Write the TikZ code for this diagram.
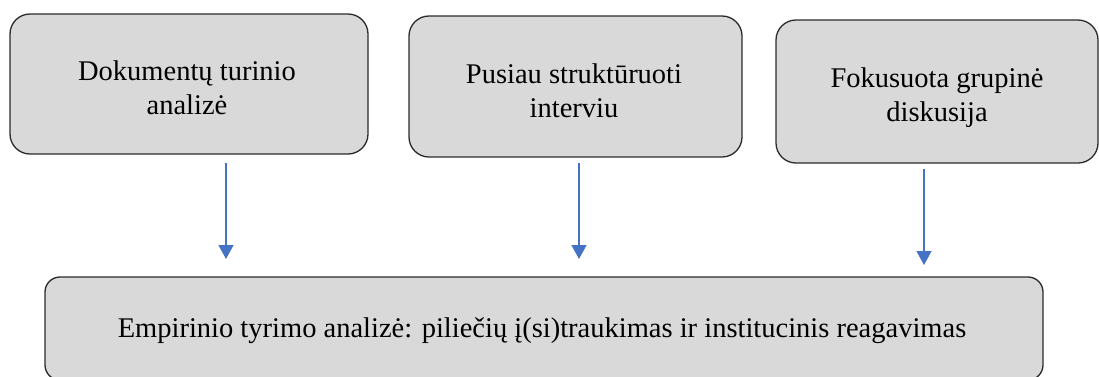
\documentclass[tikz,border=0pt]{standalone}
\usepackage{fontspec}
\setmainfont{Liberation Serif}
\usetikzlibrary{arrows.meta}
\definecolor{boxfill}{HTML}{D9D9D9}
\definecolor{boxline}{HTML}{2B2B2B}
\definecolor{arrblue}{HTML}{4472C4}
\begin{document}
\begin{tikzpicture}[x=1pt,y=-1pt,
  stagebox/.style={draw=boxline,line width=1.3pt,fill=boxfill,rounded corners=20pt},
  flowarrow/.style={draw=arrblue,line width=1.3pt,-{Triangle[length=14pt,width=15pt]}},
  lbl/.style={align=center,font=\fontsize{28.5}{34}\selectfont,inner sep=0pt}]
\useasboundingbox (0,0) rectangle (1099,376);
\draw[stagebox] (10,14) rectangle (368,154);
\draw[stagebox] (409,16) rectangle (742,157);
\draw[stagebox] (776,20) rectangle (1098,163);
\draw[stagebox,rounded corners=15pt] (45,277) rectangle (1043,380);
\node[lbl] (a) at (187,88) {Dokumentų turinio\\analizė};
\node[lbl] (b) at (574,91) {Pusiau struktūruoti\\interviu};
\node[lbl] (c) at (937,98) {Fokusuota grupinė\\diskusija};
\node[lbl] (d) at (542,331) {Empirinio tyrimo analizė: piliečių į(si)traukimas ir institucinis reagavimas};
\coordinate (a1) at (226,163); \coordinate (a2) at (226,259);
\coordinate (b1) at (579,163); \coordinate (b2) at (579,259);
\coordinate (c1) at (924,169); \coordinate (c2) at (924,265);
\draw[flowarrow] (a1) -- (a2);
\draw[flowarrow] (b1) -- (b2);
\draw[flowarrow] (c1) -- (c2);
\end{tikzpicture}
\end{document}
